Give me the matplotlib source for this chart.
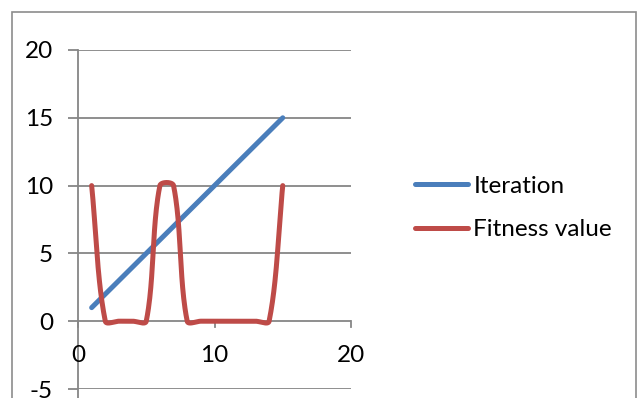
import numpy as np
import matplotlib
matplotlib.use("Agg")
import matplotlib.pyplot as plt
from matplotlib.patches import Rectangle

# ---- data ----
x_vals = [1, 2, 3, 4, 5, 6, 7, 8, 9, 10, 11, 12, 13, 14, 15]
iteration = [1, 2, 3, 4, 5, 6, 7, 8, 9, 10, 11, 12, 13, 14, 15]
fitness = [10, 0, 0, 0, 0, 10, 10, 0, 0, 0, 0, 0, 0, 0, 10]
series_names = ["Iteration", "Fitness value"]
series_colors = ["#4A7EBB", "#BE4B48"]
x_ticks = [0, 10, 20]
y_ticks = [-5, 0, 5, 10, 15, 20]

W, H = 638, 398
fig = plt.figure(figsize=(W / 100, H / 100), dpi=100)
plt.rcParams['font.family'] = ['Lato', 'DejaVu Sans']
FS = 17.5

# outer frame
fig.patches.append(Rectangle((12 / W, -0.05), (636 - 12) / W, 1.05 - 12 / H,
                             transform=fig.transFigure, fill=False,
                             edgecolor="#8C8C8C", linewidth=1.2))

ax = fig.add_axes([78 / W, (H - 389) / H, 273 / W, 339 / H])
ax.set_xlim(0, 20)
ax.set_ylim(-5, 20)
for s in ax.spines.values():
    s.set_visible(False)
ax.patch.set_alpha(0)

grid_c = "#868686"
for yv in y_ticks:
    ax.axhline(yv, color=grid_c, lw=1.3, zorder=1)
# y axis line
ax.plot([0, 0], [-5.7, 20], color=grid_c, lw=1.3, clip_on=False, zorder=1)
ax.set_yticks(y_ticks)
ax.set_yticklabels([str(v) for v in y_ticks], fontsize=FS)
ax.tick_params(axis='y', length=7, width=1.3, color=grid_c, pad=11)

# x ticks drawn at y=0 (axis crosses at 0)
ax.set_xticks([])
tick_len = 6 / (339 / 25)
for xv in x_ticks:
    ax.plot([xv, xv], [0, -tick_len], color=grid_c, lw=1.3, clip_on=False, zorder=1)
    ax.text(xv, -2.5, str(xv), ha='center', va='center', fontsize=FS)

fig.canvas.draw()


def smooth(xs, ys, n=40):
    """Excel-style smoothed line (Bezier with length-scaled tangents in screen space)."""
    pts = ax.transData.transform(np.column_stack([xs, ys]))
    m = len(pts)
    out = []
    for i in range(m - 1):
        p0 = pts[i - 1] if i > 0 else pts[i]
        p1 = pts[i]
        p2 = pts[i + 1]
        p3 = pts[i + 2] if i + 2 < m else pts[i + 1]
        d01 = np.linalg.norm(p1 - p0)
        d12 = np.linalg.norm(p2 - p1)
        d23 = np.linalg.norm(p3 - p2)
        f1 = d12 / (d01 + d12) if (d01 + d12) > 0 else 0
        f2 = d12 / (d12 + d23) if (d12 + d23) > 0 else 0
        c1 = p1 + (p2 - p0) * f1 / 3.0
        c2 = p2 - (p3 - p1) * f2 / 3.0
        t = np.linspace(0, 1, n)[:, None]
        seg = ((1 - t) ** 3) * p1 + 3 * ((1 - t) ** 2) * t * c1 + 3 * (1 - t) * t ** 2 * c2 + t ** 3 * p2
        out.append(seg if i == 0 else seg[1:])
    out = np.vstack(out)
    return ax.transData.inverted().transform(out)

handles = []
for ys, name, col in zip([iteration, fitness], series_names, series_colors):
    c = smooth(x_vals, ys)
    ln, = ax.plot(c[:, 0], c[:, 1], color=col, lw=3.6, solid_capstyle='round',
                  solid_joinstyle='round', label=name, zorder=3, clip_on=False)
    handles.append(ln)

leg = fig.legend(handles=handles, labels=series_names, loc='center left',
                 bbox_to_anchor=(415 / W, 1 - 208 / H), frameon=False,
                 fontsize=FS, handlelength=2.2, handletextpad=0.2,
                 labelspacing=0.93, borderpad=0, borderaxespad=0)

fig.savefig("out.png", dpi=100)
